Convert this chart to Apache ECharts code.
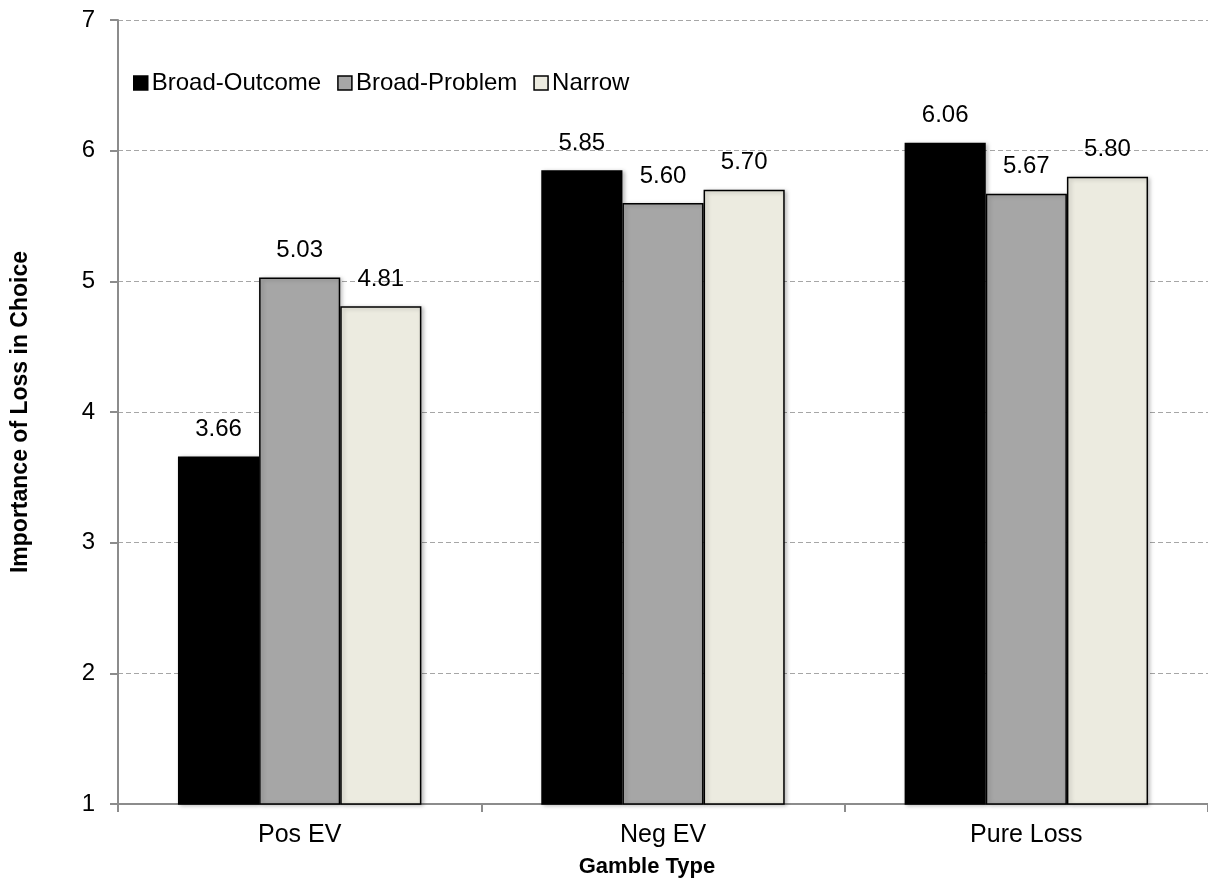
<!DOCTYPE html>
<html><head><meta charset="utf-8">
<script src="https://cdn.jsdelivr.net/npm/echarts@6/dist/echarts.min.js"></script>
<style>html,body{margin:0;padding:0;background:#fff}#c{width:1208px;height:891px}</style>
</head><body><div id="c"></div>
<script>
const categories = ["Pos EV", "Neg EV", "Pure Loss"];
const seriesNames = ["Broad-Outcome", "Broad-Problem", "Narrow"];
const broadOutcome = [3.66, 5.85, 6.06];
const broadProblem = [5.03, 5.60, 5.67];
const narrow = [4.81, 5.70, 5.80];
const yTicks = [1, 2, 3, 4, 5, 6, 7];
const colors = ["#000000", "#a6a6a6", "#ecebe0"];
const values = [broadOutcome, broadProblem, narrow];
const font = "Liberation Sans, Arial, sans-serif";
const chart = echarts.init(document.getElementById('c'), null, {renderer: 'canvas'});
chart.setOption({
  animation: false,
  grid: {left: 118, top: 20, width: 1095, height: 784, containLabel: false},
  legend: {
    left: 128, top: 66, itemWidth: 14, itemHeight: 14, itemGap: 16,
    icon: 'rect',
    textStyle: {fontFamily: font, fontSize: 24, color: '#000', padding: [0,0,0,-1]},
    data: seriesNames.map((n, i) => ({name: n, itemStyle: {color: colors[i], borderColor: '#000', borderWidth: 1.5}}))
  },
  xAxis: {
    type: 'category', data: categories,
    name: 'Gamble Type', nameLocation: 'middle', nameGap: 52,
    nameTextStyle: {fontFamily: font, fontSize: 22, fontWeight: 'bold', color: '#000', padding:[0,32,0,0]},
    axisLine: {lineStyle: {color: '#8c8c8c', width: 2}},
    axisTick: {show: true, length: 8, lineStyle: {color: '#8c8c8c', width: 2}},
    axisLabel: {fontFamily: font, fontSize: 25, color: '#000', margin: 19}
  },
  yAxis: {
    type: 'value', min: yTicks[0], max: yTicks[yTicks.length - 1], interval: 1,
    name: 'Importance of Loss in Choice', nameLocation: 'middle', nameGap: 86,
    nameTextStyle: {fontFamily: font, fontSize: 23, fontWeight: 'bold', color: '#000'},
    axisLine: {show: true, lineStyle: {color: '#8c8c8c', width: 2}},
    axisTick: {show: true, length: 8, lineStyle: {color: '#8c8c8c', width: 2}},
    axisLabel: {fontFamily: font, fontSize: 24, color: '#000', margin: 23},
    splitLine: {lineStyle: {color: '#a6a6a6', type: [5, 3], width: 1}}
  },
  series: seriesNames.map((n, i) => ({
    name: n, type: 'bar', data: values[i],
    barGap: '0%', barCategoryGap: '33%',
    itemStyle: {color: colors[i], borderColor: '#000', borderWidth: 1.5,
      shadowColor: 'rgba(0,0,0,0.25)', shadowBlur: 4, shadowOffsetX: 2, shadowOffsetY: 1},
    label: {show: true, position: 'top', distance: 15, formatter: p => p.value.toFixed(2),
      fontFamily: font, fontSize: 24, color: '#000'}
  }))
});
</script></body></html>
